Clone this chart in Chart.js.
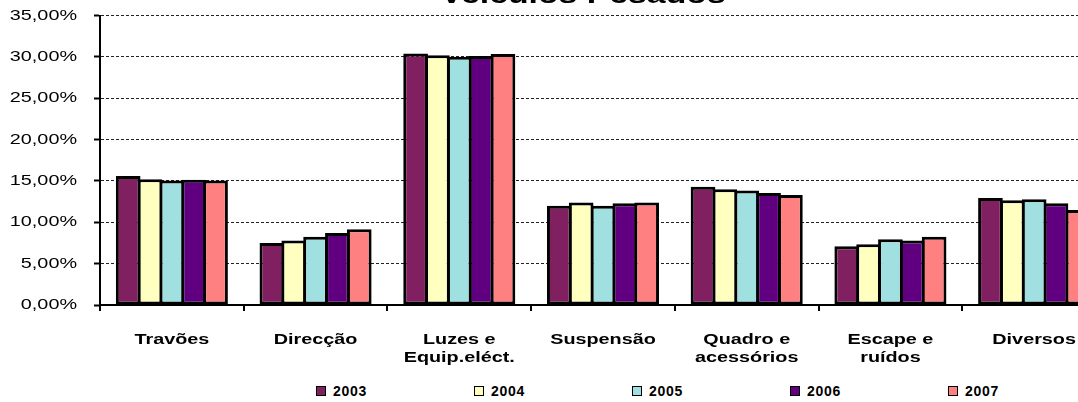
<!DOCTYPE html>
<html lang="pt">
<head>
<meta charset="UTF-8">
<title>Veículos Pesados</title>
<script src="https://cdn.jsdelivr.net/npm/chart.js"></script>
<style>
  html, body { margin: 0; padding: 0; background: #fff; overflow: hidden; }
  #frame { position: relative; width: 1078px; height: 402px; overflow: hidden; }
  #chart { position: absolute; left: 0; top: -19px; }
  #legend { position: absolute; left: 316px; top: 383px; display: flex;
            font: bold 14px 'Liberation Sans', Arial, sans-serif; letter-spacing: 0.7px; color: #000; }
  .item { width: 158px; height: 16px; display: flex; align-items: center; }
  .swatch { width: 8px; height: 8px; border: 1px solid #000; margin-right: 7px; }
</style>
</head>
<body>
<div id="frame">
  <canvas id="chart" width="1166" height="388"></canvas>
  <div id="legend"></div>
</div>
<script>
const categories = ['Travões', 'Direcção', ['Luzes e', 'Equip.eléct.'], 'Suspensão',
                    ['Quadro e', 'acessórios'], ['Escape e', 'ruídos'], 'Diversos'];
const years = ['2003', '2004', '2005', '2006', '2007'];
const colors = ['#802060', '#FFFFC0', '#A0E0E0', '#600080', '#FF8080'];

// percentages per category
const v2003 = [15.6, 7.5, 30.4, 12.0, 14.3, 7.1, 12.95];
const v2004 = [15.2, 7.8, 30.2, 12.4, 14.0, 7.35, 12.65];
const v2005 = [15.05, 8.25, 30.0, 12.0, 13.85, 7.95, 12.8];
const v2006 = [15.15, 8.7, 30.1, 12.3, 13.55, 7.8, 12.3];
const v2007 = [15.05, 9.15, 30.35, 12.4, 13.3, 8.25, 11.5];
const series = [v2003, v2004, v2005, v2006, v2007];

const yMax = 35;
const yStep = 5;

const FONT = "'Liberation Sans', Arial, sans-serif";
const STRETCH = 1.32;

// draw (and measure) every canvas text stretched horizontally
const wideText = {
  id: 'wideText',
  beforeInit(chart) {
    const ctx = chart.ctx;
    const fill = ctx.fillText;
    const measure = ctx.measureText;
    ctx.fillText = function (text, x, y, maxWidth) {
      this.save();
      this.translate(x, y);
      this.scale(STRETCH, 1);
      if (maxWidth === undefined) fill.call(this, text, 0, 0);
      else fill.call(this, text, 0, 0, maxWidth / STRETCH);
      this.restore();
    };
    ctx.measureText = function (text) {
      const m = measure.call(this, text);
      return {
        width: m.width * STRETCH,
        actualBoundingBoxAscent: m.actualBoundingBoxAscent,
        actualBoundingBoxDescent: m.actualBoundingBoxDescent
      };
    };
  }
};

const datasets = years.map((y, i) => ({
  label: y,
  data: series[i],
  backgroundColor: colors[i],
  borderColor: '#000',
  borderWidth: 3,
  borderSkipped: false,
  categoryPercentage: 0.76,
  barPercentage: 1.13
}));

new Chart(document.getElementById('chart'), {
  type: 'bar',
  data: { labels: categories, datasets: datasets },
  plugins: [wideText],
  options: {
    responsive: false,
    animation: false,
    layout: { padding: 0 },
    plugins: {
      legend: { display: false },
      tooltip: { enabled: false },
      title: {
        display: true,
        text: 'Veículos Pesados',
        color: '#000',
        font: { family: FONT, size: 25.6, weight: 'bold' },
        padding: { top: 0, bottom: 3.8 }
      }
    },
    scales: {
      x: {
        grid: { display: true, drawOnChartArea: false, drawTicks: true, tickLength: 6,
                color: '#000', lineWidth: 2 },
        border: { display: true, color: '#000', width: 2 },
        ticks: { color: '#000', padding: 20, maxRotation: 0, autoSkip: false,
                 font: { family: FONT, size: 15, weight: 'bold' } },
        afterFit(s) { s.height = 64; }
      },
      y: {
        min: 0,
        max: yMax,
        grid: { color: '#222', lineWidth: 1, drawTicks: true, tickLength: 6,
                tickColor: '#000', tickWidth: 2, tickBorderDash: [] },
        border: { display: true, color: '#000', width: 2, dash: [3, 2] },
        ticks: {
          stepSize: yStep,
          color: '#000',
          padding: 17,
          font: { family: FONT, size: 15 },
          callback: v => v.toFixed(2).replace('.', ',') + '%'
        },
        afterFit(s) { s.width = 100; }
      },
      pad: {
        type: 'linear',
        position: 'right',
        display: true,
        grid: { display: false },
        border: { display: false },
        ticks: { display: false },
        afterFit(s) { s.width = 60; }
      }
    }
  }
});

// legend row under the axis labels
const legend = document.getElementById('legend');
years.forEach((y, i) => {
  const item = document.createElement('div');
  item.className = 'item';
  const sw = document.createElement('span');
  sw.className = 'swatch';
  sw.style.background = colors[i];
  item.appendChild(sw);
  item.appendChild(document.createTextNode(y));
  legend.appendChild(item);
});
</script>
</body>
</html>
